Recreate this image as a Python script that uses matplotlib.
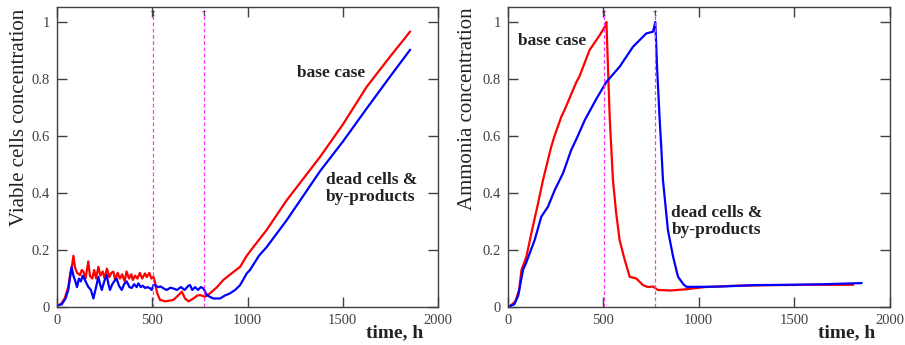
import matplotlib
matplotlib.use("Agg")
import matplotlib.pyplot as plt

plt.rcParams['font.family'] = ['Liberation Serif', 'DejaVu Serif']

# left panel: viable cells concentration
t_cells_base = [0, 20, 40, 59, 70, 80, 86, 94, 105, 121, 130, 139, 150, 164, 173, 185, 195, 205,
                217, 228, 240, 250, 262, 275, 285, 296, 305, 318, 330, 342, 355, 365, 378, 390,
                398, 410, 422, 435, 447, 462, 471, 485, 495, 506, 514, 525, 541, 570, 611, 635,
                655, 672, 690, 716, 735, 751, 777, 803, 840, 873, 920, 961, 996, 1030, 1100,
                1206, 1381, 1500, 1626, 1750, 1853]
cells_base = [0.005, 0.01, 0.03, 0.07, 0.12, 0.15, 0.18, 0.14, 0.12, 0.112, 0.13, 0.124, 0.10,
              0.16, 0.109, 0.10, 0.13, 0.10, 0.141, 0.11, 0.125, 0.10, 0.135, 0.105, 0.12, 0.124,
              0.095, 0.12, 0.10, 0.115, 0.09, 0.125, 0.10, 0.115, 0.095, 0.11, 0.10, 0.12, 0.10,
              0.118, 0.105, 0.12, 0.10, 0.106, 0.089, 0.05, 0.025, 0.02, 0.025, 0.04, 0.054,
              0.03, 0.02, 0.03, 0.04, 0.042, 0.036, 0.048, 0.07, 0.095, 0.12, 0.141, 0.18, 0.21,
              0.27, 0.375, 0.527, 0.64, 0.773, 0.88, 0.966]

t_cells_dead = [0, 25, 45, 59, 70, 77, 86, 94, 105, 115, 125, 135, 150, 164, 178, 191, 205, 217,
                226, 235, 248, 261, 270, 278, 290, 300, 313, 325, 340, 352, 366, 380, 392, 405,
                418, 427, 440, 450, 462, 475, 490, 497, 506, 514, 530, 545, 560, 576, 595, 611,
                630, 650, 670, 690, 698, 710, 725, 740, 755, 769, 786, 805, 821, 856, 880, 908,
                935, 961, 996, 1013, 1060, 1100, 1206, 1381, 1500, 1626, 1750, 1853]
cells_dead = [0.005, 0.01, 0.03, 0.06, 0.11, 0.14, 0.11, 0.095, 0.07, 0.10, 0.09, 0.11, 0.09,
              0.071, 0.06, 0.03, 0.07, 0.106, 0.08, 0.06, 0.09, 0.112, 0.08, 0.06, 0.08, 0.09,
              0.10, 0.075, 0.06, 0.08, 0.09, 0.07, 0.067, 0.08, 0.07, 0.083, 0.07, 0.075, 0.067,
              0.07, 0.065, 0.06, 0.077, 0.077, 0.07, 0.072, 0.065, 0.06, 0.068, 0.065, 0.06,
              0.07, 0.06, 0.075, 0.077, 0.06, 0.07, 0.06, 0.07, 0.065, 0.042, 0.035, 0.03, 0.03,
              0.04, 0.048, 0.06, 0.077, 0.118, 0.13, 0.18, 0.21, 0.305, 0.477, 0.58, 0.697,
              0.81, 0.902]

# right panel: ammonia concentration
t_nh3_base = [0, 19, 40, 60, 72, 98, 124, 159, 185, 227, 245, 281, 297, 360, 375, 429, 482, 508,
              517, 525, 534, 551, 568, 586, 613, 639, 674, 708, 735, 761, 787, 850, 927, 1032,
              1200, 1400, 1600, 1808]
nh3_base = [0.0, 0.007, 0.02, 0.06, 0.13, 0.177, 0.259, 0.364, 0.446, 0.56, 0.6, 0.668, 0.69,
            0.79, 0.808, 0.902, 0.954, 0.983, 1.0, 0.843, 0.668, 0.446, 0.33, 0.235, 0.165,
            0.106, 0.10, 0.077, 0.07, 0.072, 0.06, 0.058, 0.062, 0.07, 0.075, 0.077, 0.078, 0.078]

t_nh3_dead = [0, 35, 55, 80, 96, 141, 176, 211, 246, 290, 332, 367, 403, 464, 517, 586, 656,
              726, 761, 773, 782, 796, 805, 813, 839, 866, 892, 920, 936, 1032, 1118, 1300,
              1467, 1650, 1852]
nh3_dead = [0.0, 0.01, 0.04, 0.13, 0.154, 0.235, 0.317, 0.352, 0.41, 0.47, 0.55, 0.6, 0.655,
            0.73, 0.79, 0.843, 0.913, 0.96, 0.966, 1.0, 0.843, 0.656, 0.55, 0.446, 0.27, 0.177,
            0.106, 0.08, 0.071, 0.071, 0.072, 0.077, 0.078, 0.08, 0.084]

tau_times = [505, 770]
xticks = [0, 500, 1000, 1500, 2000]
yticks = [0, 0.2, 0.4, 0.6, 0.8, 1.0]
ytick_labels = ['0', '0.2', '0.4', '0.6', '0.8', '1']

fig = plt.figure(figsize=(9.05, 3.45), dpi=100)
ax1 = fig.add_axes([0.063, 0.110, 0.421, 0.870])
ax2 = fig.add_axes([0.561, 0.110, 0.422, 0.870])

panels = [
    (ax1, t_cells_base, cells_base, t_cells_dead, cells_dead, 'Viable cells concentration',
     (-0.073, 0.632), (1258, 0.82), (1412, 0.415)),
    (ax2, t_nh3_base, nh3_base, t_nh3_dead, nh3_dead, 'Ammonia concentration',
     (-0.081, 0.662), (54, 0.934), (857, 0.30)),
]

for ax, tb, yb, td, yd, ylab, ylab_xy, base_pos, dead_pos in panels:
    ax.plot(tb, yb, color='#ff0000', lw=1.6)
    ax.plot(td, yd, color='#0000ff', lw=1.6)
    for tt in tau_times:
        ax.axvline(tt, color='#ff33ff', lw=0.9, ls=(0, (3, 2)))
        ax.text(tt, 1.03, 'τ', ha='center', va='center', fontsize=8, color='#333333')
    ax.set_xlim(0, 2000)
    ax.set_ylim(0, 1.053)
    ax.set_xticks(xticks)
    ax.set_yticks(yticks)
    ax.set_yticklabels(ytick_labels)
    ax.tick_params(direction='in', length=7, width=1, top=True, right=True,
                   labelsize=10.5, color='#404040', labelcolor='#404040', pad=5)
    for s in ax.spines.values():
        s.set_color('#404040')
        s.set_linewidth(1)
    ax.set_ylabel(ylab, fontsize=15, color='#222222')
    ax.yaxis.set_label_coords(*ylab_xy)
    ax.text(0.962, -0.087, 'time, h', transform=ax.transAxes, ha='right', va='center',
            fontsize=14, fontweight='bold', color='#222222')
    ax.text(base_pos[0], base_pos[1], 'base case', ha='left', va='center',
            fontsize=12.5, fontweight='bold', color='#222222')
    ax.text(dead_pos[0], dead_pos[1], 'dead cells &\nby-products', ha='left', va='center',
            fontsize=12.5, fontweight='bold', color='#222222', linespacing=1.1)

fig.savefig('out.png', dpi=100)
